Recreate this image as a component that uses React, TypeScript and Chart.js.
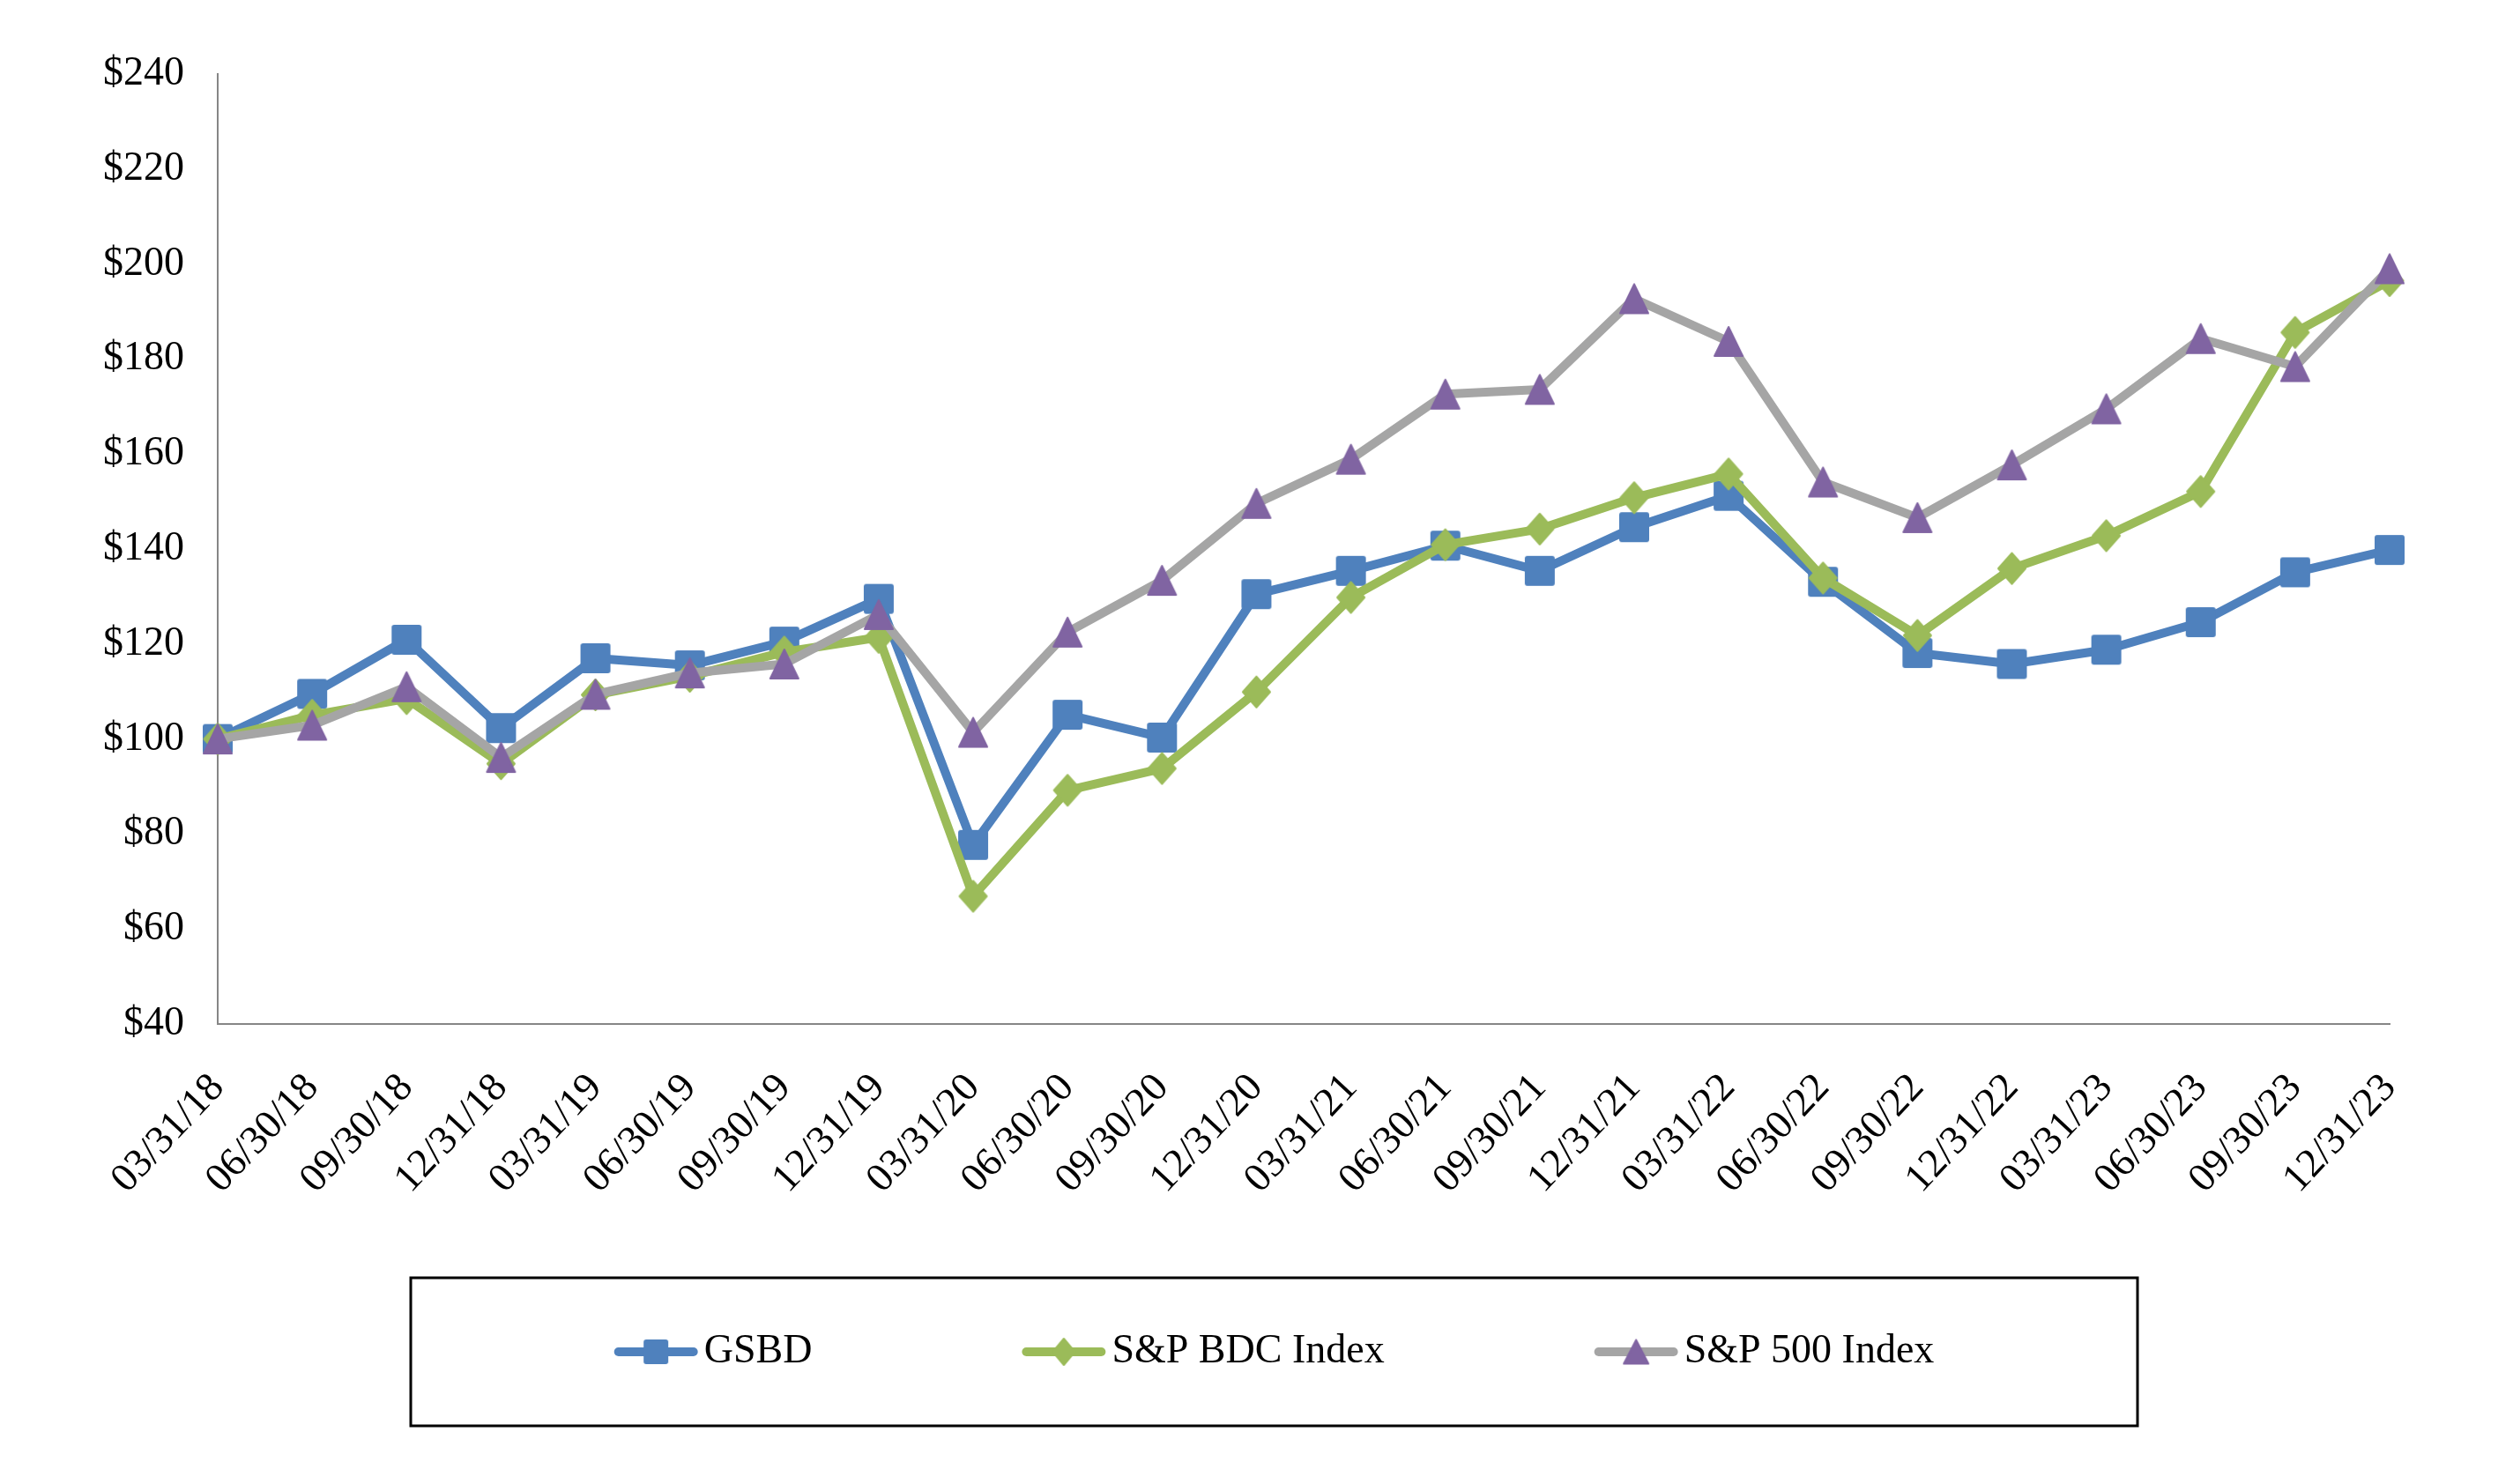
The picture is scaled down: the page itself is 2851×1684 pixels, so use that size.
import { useEffect, useRef } from 'react';
import { Chart, registerables } from 'chart.js';

Chart.register(...registerables);

const categories = [
  '03/31/18', '06/30/18', '09/30/18', '12/31/18',
  '03/31/19', '06/30/19', '09/30/19', '12/31/19',
  '03/31/20', '06/30/20', '09/30/20', '12/31/20',
  '03/31/21', '06/30/21', '09/30/21', '12/31/21',
  '03/31/22', '06/30/22', '09/30/22', '12/31/22',
  '03/31/23', '06/30/23', '09/30/23', '12/31/23',
];

const gsbdValues = [100, 109.5, 120.9, 102.3, 117, 115.5, 120.5, 129.5, 77.7, 105.1, 100.3, 130.5, 135.4, 140.7, 135.4, 144.6, 151.2, 133.1, 118.1, 115.8, 118.8, 124.6, 135.1, 139.8];
const bdcValues = [100, 105, 108.5, 94.8, 109.3, 113.2, 118.3, 121.4, 66.9, 89.2, 93.8, 109.9, 129.8, 140.9, 144.2, 150.8, 155.8, 133.9, 121.8, 135.9, 142.8, 152.1, 185.6, 196.5];
const sp500Values = [100, 102.9, 111, 96.1, 109.4, 113.9, 115.8, 126.2, 101.4, 122.5, 133.4, 149.6, 158.9, 172.6, 173.6, 192.7, 183.7, 154.1, 146.6, 157.7, 169.5, 184.3, 178.4, 199];

const seriesNames = ['GSBD', 'S&P BDC Index', 'S&P 500 Index'];
const yMin = 40;
const yMax = 240;
const yStep = 20;

const BLUE = '#4F81BD';
const GREEN = '#9BBB59';
const GRAY = '#A5A5A5';
const PURPLE = '#8064A2';
const AXIS = '#868686';
const FONT = '"Liberation Serif", "Times New Roman", serif';

function makeMarker(shape: string, w: number, h: number, color: string) {
  const c = document.createElement('canvas');
  c.width = Math.ceil(w) + 2;
  c.height = Math.ceil(h) + 2;
  const ctx = c.getContext('2d')!;
  const cx = c.width / 2;
  const cy = c.height / 2;
  ctx.fillStyle = color;
  ctx.strokeStyle = color;
  ctx.lineJoin = 'round';
  ctx.lineWidth = 2;
  ctx.beginPath();
  if (shape === 'square') {
    (ctx as any).roundRect(cx - w / 2 + 1, cy - h / 2 + 1, w - 2, h - 2, 2);
  } else if (shape === 'diamond') {
    ctx.moveTo(cx, cy - h / 2 + 1);
    ctx.lineTo(cx + w / 2 - 1, cy);
    ctx.lineTo(cx, cy + h / 2 - 1);
    ctx.lineTo(cx - w / 2 + 1, cy);
    ctx.closePath();
  } else {
    ctx.moveTo(cx, cy - h / 2 + 1);
    ctx.lineTo(cx + w / 2 - 1, cy + h / 2 - 1);
    ctx.lineTo(cx - w / 2 + 1, cy + h / 2 - 1);
    ctx.closePath();
  }
  ctx.fill();
  ctx.stroke();
  return c;
}

export default function App() {
  const ref = useRef<HTMLCanvasElement | null>(null);

  useEffect(() => {
    document.body.style.margin = '0';
    document.body.style.overflow = 'hidden';
    const canvas = ref.current;
    if (!canvas) return;

    const markers = [
      makeMarker('square', 34, 34, BLUE),
      makeMarker('diamond', 33, 37, GREEN),
      makeMarker('triangle', 34, 35, PURPLE),
    ];
    const legendMarkers = [
      makeMarker('square', 28, 28, BLUE),
      makeMarker('diamond', 27, 32, GREEN),
      makeMarker('triangle', 30, 29, PURPLE),
    ];

    const legendPlugin = {
      id: 'boxLegend',
      afterDraw(chart: any) {
        const ctx = chart.ctx as CanvasRenderingContext2D;
        const boxL = 466, boxT = 1450, boxW = 1959, boxH = 168;
        ctx.save();
        ctx.lineWidth = 3;
        ctx.strokeStyle = '#000000';
        ctx.strokeRect(boxL, boxT, boxW, boxH);
        ctx.font = `46px ${FONT}`;
        ctx.textBaseline = 'middle';
        ctx.textAlign = 'left';
        const lineLen = 95;
        const textGap = 7;
        const gap = 238;
        const ds = chart.data.datasets;
        const widths = ds.map((d: any) => lineLen + textGap + ctx.measureText(d.label).width);
        const total = widths.reduce((a: number, b: number) => a + b, 0) + gap * (ds.length - 1);
        let x = boxL + boxW / 2 - total / 2;
        const y = boxT + boxH / 2;
        ds.forEach((d: any, i: number) => {
          ctx.strokeStyle = d.borderColor;
          ctx.lineWidth = 10;
          ctx.lineCap = 'round';
          ctx.beginPath();
          ctx.moveTo(x + 5, y);
          ctx.lineTo(x + lineLen - 5, y);
          ctx.stroke();
          const m = legendMarkers[i];
          ctx.drawImage(m, x + lineLen / 2 - m.width / 2, y - m.height / 2);
          ctx.fillStyle = '#000000';
          ctx.fillText(d.label, x + lineLen + textGap, y);
          x += widths[i] + gap;
        });
        ctx.restore();
      },
    };

    const chart = new Chart(canvas, {
      type: 'line',
      data: {
        labels: categories,
        datasets: [
          {
            label: seriesNames[0],
            data: gsbdValues,
            borderColor: BLUE,
            backgroundColor: BLUE,
            borderWidth: 10,
            pointStyle: markers[0] as any,
            pointRadius: 17,
            order: 2,
            clip: false as any,
          },
          {
            label: seriesNames[1],
            data: bdcValues,
            borderColor: GREEN,
            backgroundColor: GREEN,
            borderWidth: 10,
            pointStyle: markers[1] as any,
            pointRadius: 17,
            order: 1,
            clip: false as any,
          },
          {
            label: seriesNames[2],
            data: sp500Values,
            borderColor: GRAY,
            backgroundColor: PURPLE,
            borderWidth: 10,
            pointStyle: markers[2] as any,
            pointRadius: 17,
            order: 0,
            clip: false as any,
          },
        ],
      },
      options: {
        animation: false,
        responsive: false,
        devicePixelRatio: 1,
        layout: { padding: { top: 84, right: 140, left: 0, bottom: 0 } },
        elements: {
          line: { tension: 0, borderJoinStyle: 'round', borderCapStyle: 'round' },
        },
        plugins: {
          legend: { display: false },
          tooltip: { enabled: false },
        },
        scales: {
          x: {
            offset: false,
            grid: { display: false, drawTicks: false },
            border: { display: true, color: AXIS, width: 2 },
            ticks: {
              autoSkip: false,
              minRotation: 47,
              maxRotation: 47,
              padding: 46,
              color: '#000000',
              font: { family: FONT, size: 46 },
            },
            afterFit: (scale: any) => {
              scale.height = 1684 - 1162;
            },
          },
          y: {
            min: yMin,
            max: yMax,
            grid: { display: false, drawTicks: false },
            border: { display: true, color: AXIS, width: 2 },
            ticks: {
              stepSize: yStep,
              padding: 38,
              color: '#000000',
              font: { family: FONT, size: 46 },
              callback: (v: any) => '$' + v,
            },
            afterFit: (scale: any) => {
              scale.width = 247;
            },
          },
        },
      },
      plugins: [legendPlugin],
    });

    return () => chart.destroy();
  }, []);

  return (
    <div style={{ width: 2851, height: 1684 }}>
      <canvas ref={ref} width={2851} height={1684} style={{ display: 'block' }} />
    </div>
  );
}
